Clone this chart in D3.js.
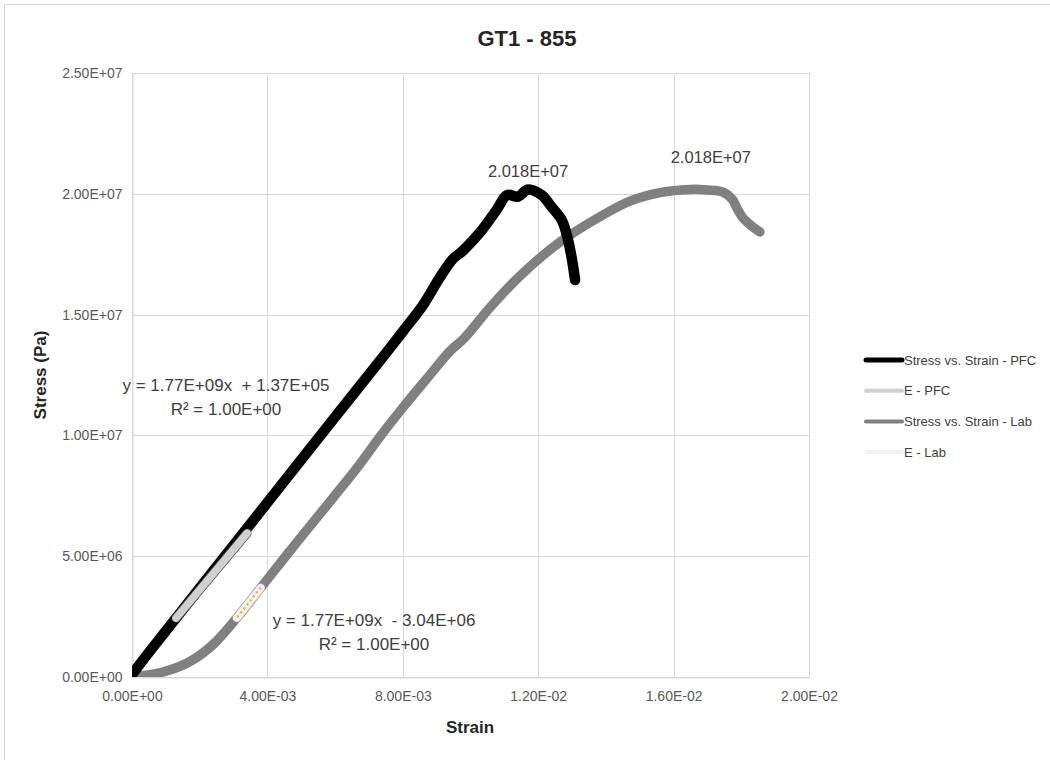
<!DOCTYPE html>
<html>
<head>
<meta charset="utf-8">
<script src="https://cdn.jsdelivr.net/npm/d3@7"></script>
<style>
  body { margin: 0; background: #fff; }
  svg text { font-family: "Liberation Sans", Arial, sans-serif; }
</style>
</head>
<body>
<div id="chart"></div>
<script>
// series data
const pfcStrain = [0, 0.0005, 0.0020, 0.0040, 0.0060, 0.0075, 0.0080, 0.0086, 0.0091, 0.00948, 0.00978, 0.01028, 0.01078, 0.01108, 0.0114, 0.0117, 0.0121, 0.0124, 0.0127, 0.01288, 0.0130, 0.01309];
const pfcStress = [1.0e5, 1.02e6, 3.68e6, 7.22e6, 1.076e7, 1.34e7, 1.43e7, 1.54e7, 1.655e7, 1.73e7, 1.765e7, 1.84e7, 1.935e7, 1.995e7, 1.988e7, 2.018e7, 1.995e7, 1.945e7, 1.89e7, 1.81e7, 1.726e7, 1.643e7];

const labStrain = [0, 0.0009, 0.0017, 0.0024, 0.0031, 0.0038, 0.0044, 0.0050, 0.0059, 0.0067, 0.0073, 0.0080, 0.0088, 0.0094, 0.0098, 0.01058, 0.01146, 0.01264, 0.01382, 0.01471, 0.0156, 0.01648, 0.01699, 0.01746, 0.01775, 0.01787, 0.01805, 0.01834, 0.01855];
const labStress = [0, 2.0e5, 6.3e5, 1.35e6, 2.45e6, 3.69e6, 4.75e6, 5.80e6, 7.35e6, 8.75e6, 9.90e6, 1.115e7, 1.25e7, 1.35e7, 1.40e7, 1.53e7, 1.66e7, 1.80e7, 1.905e7, 1.97e7, 2.005e7, 2.018e7, 2.016e7, 2.007e7, 1.974e7, 1.941e7, 1.90e7, 1.863e7, 1.842e7];

// linear fits (E) over the elastic part
const ePfcStrain = [0.0013, 0.0034];
const ePfcStress = [2.44e6, 5.95e6];
const eLabStrain = [0.0031, 0.0038];
const eLabStress = [2.45e6, 3.69e6];

const xTicks = [0, 0.004, 0.008, 0.012, 0.016, 0.020];
const yTicks = [0, 5e6, 1e7, 1.5e7, 2e7, 2.5e7];

const seriesNames = ['Stress vs. Strain - PFC', 'E - PFC', 'Stress vs. Strain - Lab', 'E - Lab'];
const seriesColors = ['#000000', '#d0d0d0', '#808080', '#f2f2f2'];
const legendWidths = [5, 4, 4, 4];

const fitLabels = [
  ['y = 1.77E+09x  + 1.37E+05', 'R² = 1.00E+00'],
  ['y = 1.77E+09x  - 3.04E+06', 'R² = 1.00E+00'],
];
const peakLabel = '2.018E+07';

// dimensions
const width = 1050;
const height = 760;

const svg = d3.select('#chart')
  .append('svg')
  .attr('width', width)
  .attr('height', height);

// outer chart border
svg.append('path')
  .attr('d', 'M4.5,760 V4.5 H1050')
  .attr('fill', 'none')
  .attr('stroke', '#d9d9d9');

const x = d3.scaleLinear().domain([0, 0.02]).range([132, 809]);
const y = d3.scaleLinear().domain([0, 2.5e7]).range([677, 73]);

// Excel style scientific format
function fmtE(v) {
  if (v === 0) return '0.00E+00';
  const e = Math.floor(Math.log10(Math.abs(v)) + 1e-9);
  const m = v / Math.pow(10, e);
  const sign = e < 0 ? '-' : '+';
  return m.toFixed(2) + 'E' + sign + String(Math.abs(e)).padStart(2, '0');
}

// gridlines
svg.append('g')
  .selectAll('line')
  .data(yTicks)
  .enter().append('line')
  .attr('x1', x(0)).attr('x2', x(0.02))
  .attr('y1', d => Math.round(y(d)) + 0.5).attr('y2', d => Math.round(y(d)) + 0.5)
  .attr('stroke', '#d9d9d9');

svg.append('g')
  .selectAll('line')
  .data(xTicks)
  .enter().append('line')
  .attr('y1', y(0)).attr('y2', y(2.5e7))
  .attr('x1', d => Math.round(x(d)) + 0.5).attr('x2', d => Math.round(x(d)) + 0.5)
  .attr('stroke', '#d9d9d9');

// axes
const xAxis = svg.append('g')
  .attr('transform', `translate(0,${Math.round(y(0)) + 0.5})`)
  .call(d3.axisBottom(x).tickValues(xTicks).tickFormat(fmtE).tickSize(0).tickPadding(14));
const yAxis = svg.append('g')
  .attr('transform', `translate(${Math.round(x(0)) + 0.5},0)`)
  .call(d3.axisLeft(y).tickValues(yTicks).tickFormat(fmtE).tickSize(0).tickPadding(10));

[xAxis, yAxis].forEach(a => {
  a.select('.domain').attr('stroke', '#d9d9d9');
  a.selectAll('text')
    .attr('fill', '#595959')
    .style('font-family', '"Liberation Sans Narrow", "Liberation Sans", sans-serif')
    .style('font-size', '14px');
});

// titles
svg.append('text')
  .attr('x', 527).attr('y', 46)
  .attr('text-anchor', 'middle')
  .style('font-size', '22px').style('font-weight', 'bold')
  .attr('fill', '#262626')
  .text('GT1 - 855');

svg.append('text')
  .attr('x', 470).attr('y', 733)
  .attr('text-anchor', 'middle')
  .style('font-size', '17px').style('font-weight', 'bold')
  .attr('fill', '#262626')
  .text('Strain');

svg.append('text')
  .attr('transform', 'translate(46,375) rotate(-90)')
  .attr('text-anchor', 'middle')
  .style('font-size', '17px').style('font-weight', 'bold')
  .attr('fill', '#262626')
  .text('Stress (Pa)');

// clip lines to the plot area, like the spreadsheet does
svg.append('clipPath')
  .attr('id', 'plot-clip')
  .append('rect')
  .attr('x', x(0)).attr('y', y(2.5e7))
  .attr('width', x(0.02) - x(0)).attr('height', y(0) - y(2.5e7));

// line generator
const line = d3.line()
  .x(d => x(d[0]))
  .y(d => y(d[1]))
  .curve(d3.curveCatmullRom.alpha(0.5));
const straight = d3.line().x(d => x(d[0])).y(d => y(d[1]));

const zip = (a, b) => a.map((v, i) => [v, b[i]]);

const plot = svg.append('g').attr('clip-path', 'url(#plot-clip)');

plot.append('path')
  .datum(zip(labStrain, labStress))
  .attr('d', line)
  .attr('fill', 'none')
  .attr('stroke', seriesColors[2])
  .attr('stroke-width', 9.5)
  .attr('stroke-linejoin', 'round')
  .attr('stroke-linecap', 'round');

plot.append('path')
  .datum(zip(pfcStrain, pfcStress))
  .attr('d', line)
  .attr('fill', 'none')
  .attr('stroke', seriesColors[0])
  .attr('stroke-width', 10.5)
  .attr('stroke-linejoin', 'round')
  .attr('stroke-linecap', 'round');

plot.append('path')
  .datum(zip(ePfcStrain, ePfcStress))
  .attr('d', straight)
  .attr('fill', 'none')
  .attr('stroke', '#555')
  .attr('stroke-width', 9)
  .attr('stroke-linecap', 'round');
plot.append('path')
  .datum(zip(ePfcStrain, ePfcStress))
  .attr('d', straight)
  .attr('fill', 'none')
  .attr('stroke', seriesColors[1])
  .attr('stroke-width', 7.5)
  .attr('stroke-linecap', 'round');

plot.append('path')
  .datum(zip(eLabStrain, eLabStress))
  .attr('d', straight)
  .attr('fill', 'none')
  .attr('stroke', '#bdbdbd')
  .attr('stroke-width', 9)
  .attr('stroke-linecap', 'round');
plot.append('path')
  .datum(zip(eLabStrain, eLabStress))
  .attr('d', straight)
  .attr('fill', 'none')
  .attr('stroke', seriesColors[3])
  .attr('stroke-width', 7.5)
  .attr('stroke-linecap', 'round');

plot.append('path')
  .datum(zip(eLabStrain, eLabStress))
  .attr('d', d3.line().x(d => x(d[0]) + 1).y(d => y(d[1]) - 1.5))
  .attr('fill', 'none')
  .attr('stroke', '#f0b81e')
  .attr('stroke-width', 2.5)
  .attr('stroke-dasharray', '0.1 5')
  .attr('stroke-linecap', 'round');

// peak labels
const pfcPeak = d3.maxIndex(pfcStress);
const labPeak = d3.maxIndex(labStress);
svg.append('text')
  .attr('x', x(pfcStrain[pfcPeak])).attr('y', y(pfcStress[pfcPeak]) - 12)
  .attr('text-anchor', 'middle')
  .style('font-size', '16.5px')
  .attr('fill', '#404040')
  .text(peakLabel);
svg.append('text')
  .attr('x', x(labStrain[labPeak]) + 21).attr('y', y(labStress[labPeak]) - 26)
  .attr('text-anchor', 'middle')
  .style('font-size', '16.5px')
  .attr('fill', '#404040')
  .text(peakLabel);

// trendline equations
const fitPos = [[226, 391], [374, 626]];
fitLabels.forEach((lines, i) => {
  const t = svg.append('text')
    .attr('text-anchor', 'middle')
    .style('font-size', '17px')
    .style('white-space', 'pre')
    .attr('fill', '#404040');
  lines.forEach((s, j) => {
    t.append('tspan')
      .attr('x', fitPos[i][0])
      .attr('y', fitPos[i][1] + j * 24)
      .text(s);
  });
});

// legend
const legend = svg.append('g')
  .selectAll('g')
  .data(seriesNames)
  .enter().append('g')
  .attr('transform', (d, i) => `translate(864,${360 + i * 30.7})`);

legend.append('line')
  .attr('x1', 2).attr('x2', 38)
  .attr('stroke', (d, i) => seriesColors[i])
  .attr('stroke-width', (d, i) => legendWidths[i])
  .attr('stroke-linecap', 'round');

legend.append('text')
  .attr('x', 40).attr('dy', '0.35em')
  .style('font-size', '13px')
  .attr('fill', '#404040')
  .text(d => d);
</script>
</body>
</html>
